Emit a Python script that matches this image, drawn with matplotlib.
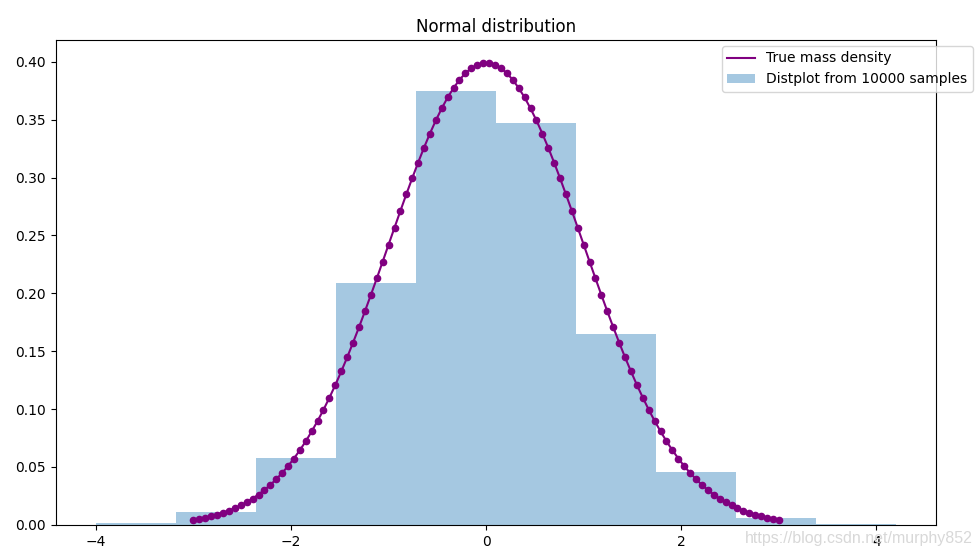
import matplotlib
matplotlib.use("Agg")
import matplotlib.pyplot as plt

# histogram (10 bins)
bin_left = [-4.00, -3.18, -2.36, -1.54, -0.72, 0.10, 0.92, 1.74, 2.56, 3.38]
bin_width = 0.82
bin_height = [0.0017, 0.011, 0.058, 0.209, 0.375, 0.347, 0.165, 0.046, 0.006, 0.001]

# density curve points (x from -3 to 3)
curve_x = [
    -3.000, -2.939, -2.879, -2.818, -2.758, -2.697, -2.636, -2.576, -2.515, -2.455,
    -2.394, -2.333, -2.273, -2.212, -2.152, -2.091, -2.030, -1.970, -1.909, -1.848,
    -1.788, -1.727, -1.667, -1.606, -1.545, -1.485, -1.424, -1.364, -1.303, -1.242,
    -1.182, -1.121, -1.061, -1.000, -0.939, -0.879, -0.818, -0.758, -0.697, -0.636,
    -0.576, -0.515, -0.455, -0.394, -0.333, -0.273, -0.212, -0.152, -0.091, -0.030,
    0.030, 0.091, 0.152, 0.212, 0.273, 0.333, 0.394, 0.455, 0.515, 0.576,
    0.636, 0.697, 0.758, 0.818, 0.879, 0.939, 1.000, 1.061, 1.121, 1.182,
    1.242, 1.303, 1.364, 1.424, 1.485, 1.545, 1.606, 1.667, 1.727, 1.788,
    1.848, 1.909, 1.970, 2.030, 2.091, 2.152, 2.212, 2.273, 2.333, 2.394,
    2.455, 2.515, 2.576, 2.636, 2.697, 2.758, 2.818, 2.879, 2.939, 3.000,
]
curve_y = [
    0.0044, 0.0053, 0.0063, 0.0075, 0.0089, 0.0105, 0.0124, 0.0145, 0.0169, 0.0196,
    0.0227, 0.0262, 0.0301, 0.0345, 0.0394, 0.0448, 0.0508, 0.0573, 0.0645, 0.0723,
    0.0807, 0.0898, 0.0994, 0.1099, 0.1209, 0.1325, 0.1447, 0.1574, 0.1707, 0.1845,
    0.1984, 0.2128, 0.2272, 0.2420, 0.2567, 0.2711, 0.2855, 0.2993, 0.3129, 0.3259,
    0.3380, 0.3494, 0.3597, 0.3692, 0.3774, 0.3844, 0.3901, 0.3944, 0.3973, 0.3988,
    0.3988, 0.3973, 0.3944, 0.3901, 0.3844, 0.3774, 0.3692, 0.3597, 0.3494, 0.3380,
    0.3259, 0.3129, 0.2993, 0.2855, 0.2711, 0.2567, 0.2420, 0.2272, 0.2128, 0.1984,
    0.1845, 0.1707, 0.1574, 0.1447, 0.1325, 0.1209, 0.1099, 0.0994, 0.0898, 0.0807,
    0.0723, 0.0645, 0.0573, 0.0508, 0.0448, 0.0394, 0.0345, 0.0301, 0.0262, 0.0227,
    0.0196, 0.0169, 0.0145, 0.0124, 0.0105, 0.0089, 0.0075, 0.0063, 0.0053, 0.0044,
]

fig = plt.figure(figsize=(9.8, 5.56), dpi=100)
ax = fig.add_axes([0.057, 0.056, 0.898, 0.872])

# line (legend entry) and dots drawn separately
ax.plot(curve_x, curve_y, color='purple', label='True mass density')
ax.plot(curve_x, curve_y, 'o', color='purple', markersize=4.5)
ax.bar(bin_left, bin_height, width=bin_width, align='edge', color='#1f77b4', alpha=0.4,
       label='Distplot from 10000 samples')

ax.set_title('Normal distribution')
ax.legend(loc='upper right', bbox_to_anchor=(1.042, 0.988), borderaxespad=0)

# watermark
fig.text(0.993, 0.032, 'https://blog.csdn.net/murphy852', ha='right', va='center',
         color='#d8d8d8', fontsize=11.5, family='Liberation Sans')

plt.savefig('out.png')
